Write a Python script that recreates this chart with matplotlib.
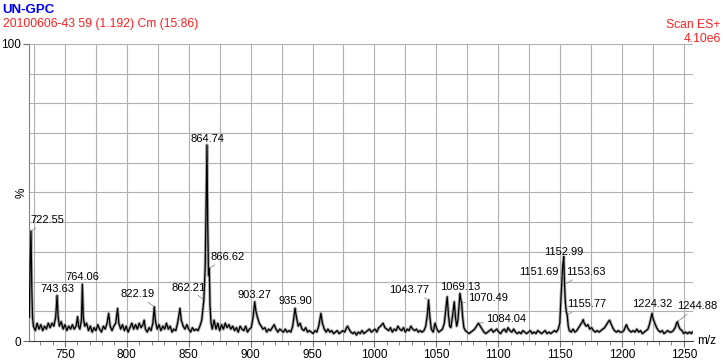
import numpy as np
import matplotlib
matplotlib.use("Agg")
import matplotlib.pyplot as plt
from matplotlib.ticker import MultipleLocator

plt.rcParams["font.family"] = ["Liberation Sans", "DejaVu Sans"]

# Spectre (m/z, intensité relative %)
mz = [
    721.2, 721.8, 722.55, 723.2, 723.8, 724.5, 726, 727.5, 729, 730.5, 732, 733.5, 735, 736.5, 738, 739.5,
    741, 742.5, 743.63, 744.5, 745.5, 747, 748.5, 750, 751.5, 753, 754.5, 756, 757.5, 759, 760.2, 761,
    762, 763.3, 764.06, 764.8, 766, 767.5, 769, 770.5, 772, 773.5, 775, 776.5, 778, 779.5, 781, 782.5,
    784, 785.3, 786.5, 788, 789.5, 791, 792.5, 793.5, 795, 796.5, 798, 799.5, 801, 802.5, 804, 805.5,
    807, 808.5, 810, 811.5, 813, 814, 815, 816.5, 818, 819.5, 821, 822.19, 823, 824.5, 826, 827.5,
    829, 830.5, 832, 833.5, 835, 836.5, 838, 839.5, 841, 842.9, 844, 845.5, 847, 848.5, 850, 851.5,
    853, 854.5, 856, 857.5, 859, 860.5, 862.21, 863.3, 864, 864.74, 865.3, 866, 866.62, 867.2, 868, 869,
    870.5, 872, 873.5, 875, 876.5, 878, 879.5, 881, 882.5, 884, 885.5, 887, 888.5, 890, 891.5, 893,
    894.5, 896, 897.5, 899, 900.5, 902, 903.27, 904.3, 905.5, 907, 908.5, 910, 911.5, 913, 914.5, 916,
    917.5, 919, 920.5, 922, 923.5, 925, 926.5, 928, 929.5, 931, 932.5, 934, 935.9, 937, 938.5, 940,
    941.5, 943, 944.5, 946, 947.5, 949, 950.5, 952, 953.5, 955, 956.8, 958, 959.5, 961, 962.5, 964,
    965.5, 967, 968.5, 970, 971.5, 973, 974.5, 976, 977.5, 978.3, 979.5, 981, 982.5, 984, 985.5, 987,
    988.5, 990, 991.5, 993, 994.5, 996, 997.5, 999, 1000.5, 1002, 1003.5, 1005, 1007, 1008.5, 1010, 1011.5,
    1013, 1014.5, 1016, 1017.5, 1019, 1020.5, 1022, 1023.5, 1025, 1026.5, 1028, 1029.5, 1031, 1032.5, 1034, 1035.5,
    1037, 1038.5, 1040, 1041.5, 1042.8, 1043.77, 1044.8, 1046, 1047.5, 1049, 1050.5, 1052, 1053.5, 1055, 1056.5, 1057.8,
    1058.8, 1059.8, 1060.8, 1061.8, 1063, 1064.5, 1065.5, 1066.5, 1067.5, 1068.4, 1069.13, 1069.8, 1070.49, 1071.3, 1072.3, 1073.5,
    1075, 1076.5, 1078, 1079.5, 1081, 1082.5, 1084.04, 1085.5, 1087, 1088.5, 1090, 1091.5, 1093, 1094.5, 1096, 1097.5,
    1099, 1100.5, 1102, 1103.5, 1105, 1106.5, 1108, 1109.5, 1111, 1112.5, 1114, 1115.5, 1117, 1118.5, 1120, 1121.5,
    1123, 1124.5, 1126, 1127.5, 1129, 1130.5, 1132, 1133.5, 1135, 1136.5, 1138, 1139.5, 1141, 1142.5, 1144, 1145.5,
    1147, 1148.5, 1149.8, 1150.8, 1151.69, 1152.3, 1152.99, 1153.63, 1154.3, 1155, 1155.77, 1156.6, 1157.5, 1159, 1160.5, 1162,
    1163.5, 1165, 1166.5, 1168, 1168.7, 1169.5, 1171, 1172.5, 1174, 1175.5, 1177, 1178.5, 1180, 1181.5, 1183, 1184.5,
    1186, 1187.5, 1189, 1190, 1191, 1192.5, 1194, 1195.5, 1197, 1198.5, 1200, 1201.5, 1203, 1203.7, 1204.5, 1206,
    1207.5, 1209, 1210.5, 1212, 1213.5, 1215, 1216.5, 1218, 1219.5, 1221, 1222.5, 1223.5, 1224.32, 1225.2, 1226.5, 1228,
    1229.5, 1231, 1232.5, 1234, 1235.5, 1237, 1238.5, 1240, 1241.5, 1243, 1244.1, 1244.88, 1245.8, 1247, 1248.5, 1250,
    1251.5, 1253, 1254.5, 1256, 1257,
]
intensity = [
    8, 25, 37, 18, 8, 5, 3.5, 6, 4, 5.5, 3.5, 5, 4, 6, 4.5, 6,
    5, 8, 15.3, 8, 5, 6.5, 4, 5.5, 3.5, 5, 4, 5.5, 4, 5, 8.2, 5,
    4, 7, 19.1, 8, 5, 6, 3.5, 5, 3, 4.5, 3.5, 5.5, 4, 3, 5, 4,
    6, 9.3, 5, 3.5, 5, 6, 11, 6, 4, 5.5, 3.5, 5, 3, 4.5, 6, 4,
    5.5, 4, 6, 4.5, 5.5, 7, 4, 3, 4.5, 3.5, 6, 11.5, 7, 4, 5.5, 3.5,
    5, 4, 6, 4, 5, 3, 4, 3.5, 6, 11, 7, 5, 4, 5.5, 4, 3,
    4.5, 3.5, 4, 3.5, 5, 7, 13.8, 25, 45, 66, 40, 22, 24.5, 12, 6, 4,
    7, 4, 6, 3.5, 5.5, 4, 6, 4.5, 5.5, 4, 5, 3.5, 4.5, 3, 5, 4,
    3.5, 5, 3, 4, 4.5, 8, 13.2, 10, 8, 6, 5, 4, 4.5, 3, 4, 3.5,
    4.5, 5.5, 4, 3, 4, 3.5, 3, 4, 3, 3.5, 3, 5, 11, 8, 5, 6,
    4, 3.5, 4.5, 3, 3.5, 3, 2.5, 3.5, 3, 5, 9.3, 6, 4, 3, 4, 3,
    3.5, 2.5, 3, 3.5, 2.5, 3, 3.5, 3, 4.5, 5, 4, 3, 2.5, 3, 2, 3,
    2.5, 3.5, 2.5, 3, 3.5, 4, 3, 3.5, 4, 3, 4.5, 5, 6, 4.5, 4, 3.5,
    4.5, 3, 4, 3.5, 5, 4, 3.5, 4.5, 3, 4, 3.5, 5, 4, 3.5, 4, 3,
    3.5, 3, 3.5, 5, 9, 13.8, 8, 4, 3, 6, 4, 3, 3.5, 4, 6, 11,
    14.9, 9, 5, 4.5, 8, 13.2, 8, 5, 7, 12, 16, 14, 12.8, 8, 4.5, 3.5,
    3, 2.5, 3, 3.5, 4, 5, 6, 5, 4, 3, 2.5, 3, 3.5, 4, 3, 3.5,
    4, 3, 2.5, 3.5, 4, 3, 4.5, 3.5, 3, 4, 3, 2.5, 3, 2.5, 3.5, 3,
    2.5, 3, 3.5, 2.5, 3, 2.5, 3.5, 3, 2.5, 3, 3.5, 2.5, 3, 2.5, 3, 3.5,
    3, 4, 6, 15, 22, 26, 28.4, 19, 13, 10, 8.8, 5, 3.5, 3, 4, 3,
    3.5, 4.5, 5.5, 6.5, 7.2, 6, 5, 5.5, 4, 4.5, 3.5, 3, 3.5, 3, 3.5, 4,
    4.5, 5.5, 6.5, 7, 6, 4.5, 3.5, 3, 3.5, 3, 3, 3.5, 5, 5.5, 4.5, 3.5,
    3, 3.5, 3, 4, 3, 3.5, 2.5, 3, 3.5, 4, 6, 8, 9.3, 7.5, 6, 4.5,
    3.5, 3, 3.5, 2.5, 3, 3.5, 3, 3, 3.5, 4.5, 6, 6.5, 5, 4, 3.5, 2.5,
    3, 2.5, 3, 2.5, 3,
]

# Pics annotés et décalage du texte (points)
peak_labels = ["722.55", "743.63", "764.06", "822.19", "862.21", "864.74", "866.62",
               "903.27", "935.90", "1043.77", "1069.13", "1070.49", "1084.04",
               "1151.69", "1152.99", "1153.63", "1155.77", "1224.32", "1244.88"]
label_dx = [12, 0, 0, -12, -11, 0, 13, 0, 0, -14, 0, 19, 20, -17, 0, 15, 14, 0, 14]
label_dy = [8, 5, 5, 9, 9, 4, 8, 5, 5, 7, 5, 3.5, 3, 2.5, 3, 9, 7.5, 7, 11]
leader = [True, False, False, True, True, False, True, False, False, True, False,
          True, True, True, False, True, True, False, True]

fig = plt.figure(figsize=(7.24, 3.62), dpi=100)
ax = fig.add_axes([0.0405, 0.058, 0.9165, 0.8205])

for xv in np.arange(725, 1251, 25):
    ax.axvline(xv, color="#b0b0b0", lw=0.8, zorder=0)
for yv in np.arange(10, 101, 10):
    ax.axhline(yv, color="#b0b0b0", lw=0.8, zorder=0)

ax.plot(mz, intensity, color="#a8a8a8", lw=2.2, zorder=2)
ax.plot(mz, intensity, color="black", lw=0.9, zorder=3)

for lab, dx, dy, ld in zip(peak_labels, label_dx, label_dy, leader):
    m = float(lab)
    i = int(np.argmin(np.abs(np.array(mz) - m)))
    props = dict(arrowstyle="-", color="#909090", lw=0.6, shrinkA=0, shrinkB=1) if ld else None
    ax.annotate(lab, xy=(mz[i], intensity[i]), xytext=(dx, dy), textcoords="offset points",
                ha="center", va="center", fontsize=8, arrowprops=props, zorder=4)

ax.set_xlim(721.2, 1257.3)
ax.set_ylim(0, 100)
ax.set_xticks(np.arange(750, 1251, 50))
ax.xaxis.set_minor_locator(MultipleLocator(10))
ax.set_yticks([0, 100])
ax.set_yticklabels(["0", "100"])
ax.tick_params(axis="both", which="major", labelsize=8.5, length=4, width=0.8, color="#707070", pad=2)
ax.tick_params(axis="x", which="minor", length=3, width=0.6, color="#707070")
for s in ["top", "right"]:
    ax.spines[s].set_visible(False)
ax.spines["left"].set_color("#808080")
ax.spines["bottom"].set_color("#404040")
ax.spines["left"].set_linewidth(0.8)
ax.spines["bottom"].set_linewidth(0.8)

ax.text(1.006, 0.0, "m/z", transform=ax.transAxes, ha="left", va="center", fontsize=8.5)
ax.text(-0.011, 0.5, "%", transform=ax.transAxes, ha="center", va="center", rotation=90, fontsize=8.5)

fig.text(0.003, 0.965, "UN-GPC", color="#0000ff", fontsize=9.5, fontweight="bold", ha="left", va="baseline")
fig.text(0.004, 0.925, "20100606-43 59 (1.192) Cm (15:86)", color="#ff2020", fontsize=8.7, ha="left", va="baseline")
fig.text(0.995, 0.922, "Scan ES+", color="#ff2020", fontsize=8.7, ha="right", va="baseline")
fig.text(0.996, 0.884, "4.10e6", color="#ff2020", fontsize=8.7, ha="right", va="baseline")

fig.savefig("out.png", dpi=100)
